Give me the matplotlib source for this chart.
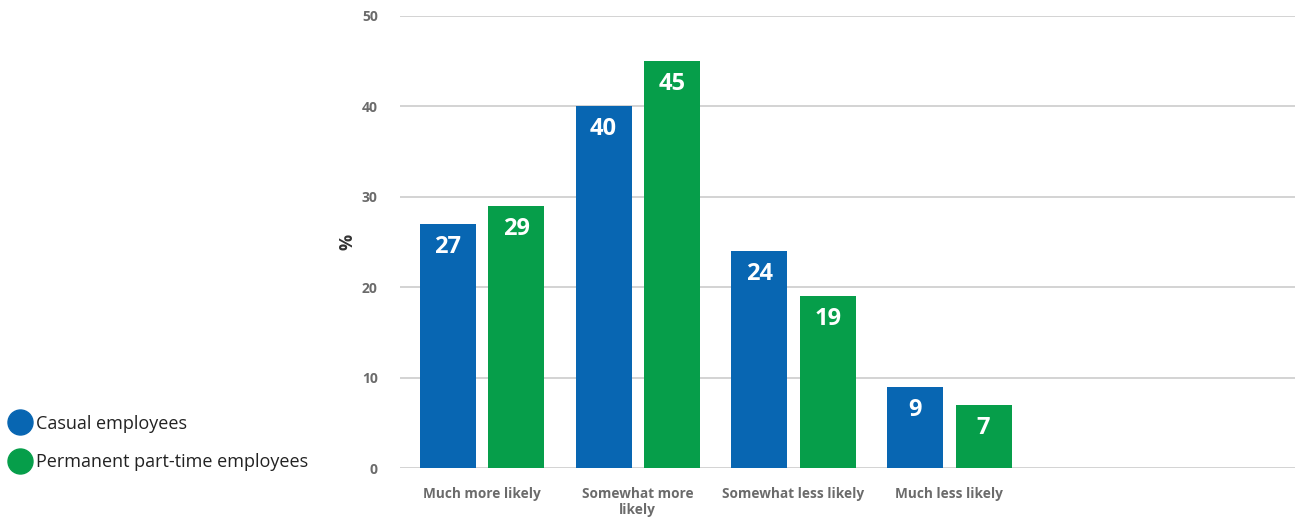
import matplotlib
matplotlib.use("Agg")
import matplotlib.pyplot as plt
from matplotlib.lines import Line2D
import numpy as np

categories = ["Much more likely", "Somewhat more\nlikely", "Somewhat less likely", "Much less likely"]
series_names = ["Casual employees", "Permanent part-time employees"]
casual = [27, 40, 24, 9]
permanent = [29, 45, 19, 7]
yticks = [0, 10, 20, 30, 40, 50]

blue = "#0866B2"
green = "#069E4A"
tick_grey = "#6b6b6b"

plt.rcParams['font.family'] = ['Open Sans', 'DejaVu Sans']

W, H = 1295, 518
fig = plt.figure(figsize=(W/100, H/100), dpi=100)
ax = fig.add_axes([400/W, 1-468/H, 895/W, (468-16)/H])

x = np.arange(len(categories))
width = 0.36
off = 0.22
b1 = ax.bar(x - off, casual, width, color=blue, zorder=3)
b2 = ax.bar(x + off, permanent, width, color=green, zorder=3)

for bars, vals in ((b1, casual), (b2, permanent)):
    for r, v in zip(bars, vals):
        ax.annotate(str(v), (r.get_x() + r.get_width()/2, v), xytext=(0, -16.5),
                    textcoords="offset points", ha="center", va="center",
                    color="white", fontsize=17, fontweight="bold", zorder=4)

ax.set_xlim(-0.527, 5.22)
ax.set_ylim(0, 50)
ax.set_yticks(yticks)
ax.set_yticklabels([str(t) for t in yticks], fontsize=10, fontweight="bold", color=tick_grey)
ax.set_xticks(x)
ax.set_xticklabels(categories, fontsize=9.8, fontweight="bold", color=tick_grey, linespacing=1.1, va="top")
ax.tick_params(axis="both", length=0)
ax.tick_params(axis="y", pad=16)
ax.tick_params(axis="x", pad=14)
ax.yaxis.grid(True, color="#cccccc", linewidth=1.2, zorder=0)
for s in ax.spines.values():
    s.set_visible(False)
ax.set_ylabel("%", fontsize=13, fontweight="bold", color="#333333", labelpad=4)

handles = [Line2D([], [], marker="o", linestyle="none", markersize=18, markerfacecolor=c, markeredgecolor=c)
           for c in (blue, green)]
fig.legend(handles, series_names, loc="center left", bbox_to_anchor=(-0.002, 1-443/H), frameon=False,
           fontsize=13, handletextpad=0.15, labelspacing=1.15, borderpad=0, handlelength=1.5,
           labelcolor="#222222")

fig.savefig("out.png", dpi=100)
